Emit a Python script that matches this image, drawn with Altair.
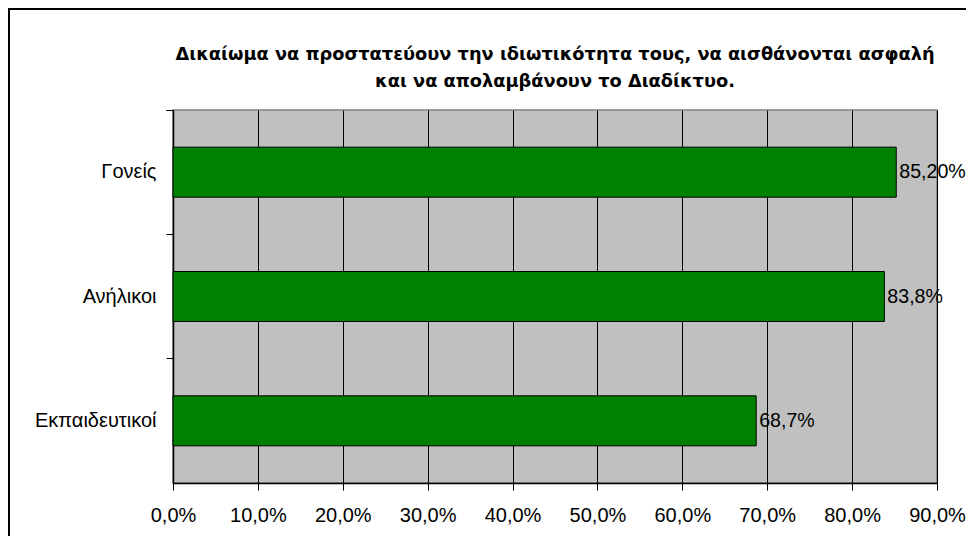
import altair as alt
import pandas as pd

categories = ["Γονείς", "Ανήλικοι", "Εκπαιδευτικοί"]
values = [0.852, 0.838, 0.687]
value_labels = ["85,20%", "83,8%", "68,7%"]
title_lines = [
    "Δικαίωμα να προστατεύουν την ιδιωτικότητα τους, να αισθάνονται ασφαλή",
    "και να απολαμβάνουν το Διαδίκτυο.",
]
x_ticks = [0.0, 0.1, 0.2, 0.3, 0.4, 0.5, 0.6, 0.7, 0.8, 0.9]

df = pd.DataFrame({"cat": categories, "val": values, "lab": value_labels})

FONT = "Liberation Sans"
TFONT = "DejaVu Sans"
W, H = 764, 373

y_enc = alt.Y(
    "cat:N",
    sort=categories,
    title=None,
    scale=alt.Scale(paddingInner=0, paddingOuter=0),
    axis=alt.Axis(
        bandPosition=0,
        tickExtra=True,
        tickSize=7,
        tickColor="black",
        domainColor="black",
        domainWidth=1.5,
        labelPadding=10,
        labelFontSize=20,
        labelFont=FONT,
        labelColor="black",
        grid=False,
    ),
)

x_enc = alt.X(
    "val:Q",
    title=None,
    scale=alt.Scale(domain=[0, 0.9], nice=False, zero=True),
    axis=alt.Axis(
        values=x_ticks,
        labelExpr="replace(format(datum.value, '.1%'), '.', ',')",
        labelOverlap=False,
        labelFlush=False,
        tickSize=7,
        tickColor="black",
        domainColor="black",
        domainWidth=1.5,
        labelPadding=15,
        labelFontSize=20,
        labelFont=FONT,
        labelColor="black",
        grid=True,
        gridColor="black",
        gridWidth=1,
        gridOpacity=1,
    ),
)

base = alt.Chart(df)

bars = base.mark_bar(size=50, color="#008000", stroke="black", strokeWidth=1).encode(
    x=x_enc, y=y_enc
)

texts = base.mark_text(
    align="left", baseline="middle", dx=3, fontSize=19.6, font=FONT, color="black"
).encode(x=alt.X("val:Q"), y=alt.Y("cat:N", sort=categories), text="lab:N")

one = alt.Data(values=[{"a": 1}])

frame_left = alt.Chart(one).mark_rule(color="black", strokeWidth=2).encode(
    x=alt.value(-164), y=alt.value(-102), y2=alt.value(430)
)
frame_top = alt.Chart(one).mark_rule(color="black", strokeWidth=2).encode(
    x=alt.value(-165), x2=alt.value(800), y=alt.value(-101)
)

title1 = alt.Chart(one).mark_text(
    align="center", baseline="alphabetic", fontSize=17.8, fontWeight="bold", font=TFONT, color="black"
).encode(x=alt.value(W / 2), y=alt.value(-50), text=alt.value(title_lines[0]))
title2 = alt.Chart(one).mark_text(
    align="center", baseline="alphabetic", fontSize=17.8, fontWeight="bold", font=TFONT, color="black"
).encode(x=alt.value(W / 2), y=alt.value(-23), text=alt.value(title_lines[1]))

chart = alt.layer(frame_left, frame_top, title1, title2, bars, texts).properties(
    width=W,
    height=H,
    autosize=alt.AutoSizeParams(type="none"),
    padding={"left": 165, "top": 102, "right": 29, "bottom": 53},
).configure_view(fill="#C0C0C0", stroke="#808080", strokeWidth=1.5)

chart.save("out.html", embed_options={"renderer": "svg", "actions": False})
